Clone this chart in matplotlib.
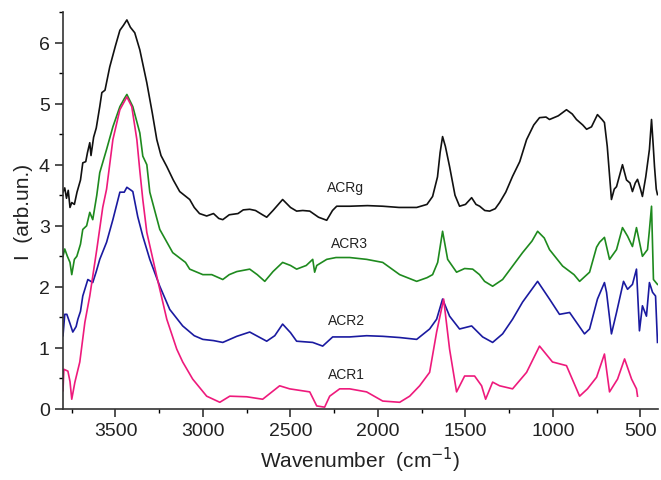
import matplotlib
matplotlib.use('Agg')
import matplotlib.pyplot as plt
from matplotlib.ticker import MultipleLocator

plt.rcParams['font.family'] = ['Liberation Sans', 'DejaVu Sans']

# ACRg (black)
wn_g = [3800, 3790, 3780, 3770, 3760, 3750, 3735, 3720, 3700, 3687, 3670, 3660, 3647, 3640,
        3625, 3610, 3590, 3578, 3560, 3533, 3500, 3475, 3455, 3435, 3415, 3390, 3361, 3321,
        3290, 3264, 3240, 3207, 3170, 3133, 3076, 3050, 3020, 2979, 2940, 2910, 2887, 2850,
        2800, 2770, 2733, 2700, 2660, 2636, 2600, 2545, 2500, 2465, 2430, 2390, 2340, 2293,
        2260, 2236, 2162, 2060, 1973, 1880, 1779, 1720, 1688, 1660, 1645, 1631, 1615, 1591,
        1560, 1534, 1500, 1465, 1440, 1419, 1390, 1362, 1330, 1305, 1270, 1231, 1190, 1151,
        1110, 1077, 1040, 1020, 970, 923, 890, 866, 830, 808, 780, 746, 720, 706, 690, 666,
        650, 637, 603, 580, 560, 546, 530, 517, 500, 489, 470, 449, 437, 427, 420, 410, 403]
acrg = [3.55, 3.62, 3.45, 3.58, 3.30, 3.38, 3.35, 3.55, 3.75, 4.03, 4.05, 4.2, 4.36, 4.15,
        4.45, 4.6, 4.95, 5.18, 5.22, 5.6, 5.95, 6.2, 6.28, 6.37, 6.25, 6.16, 5.88, 5.34,
        4.85, 4.41, 4.15, 3.97, 3.75, 3.56, 3.43, 3.3, 3.2, 3.16, 3.2, 3.12, 3.1, 3.18,
        3.2, 3.26, 3.27, 3.25, 3.18, 3.14, 3.25, 3.43, 3.3, 3.24, 3.25, 3.24, 3.14, 3.09,
        3.25, 3.32, 3.32, 3.33, 3.32, 3.3, 3.3, 3.35, 3.48, 3.8, 4.2, 4.46, 4.3, 3.97,
        3.5, 3.32, 3.35, 3.46, 3.35, 3.32, 3.25, 3.24, 3.28, 3.38, 3.55, 3.81, 4.05, 4.41,
        4.65, 4.77, 4.78, 4.74, 4.8, 4.9, 4.83, 4.74, 4.65, 4.58, 4.62, 4.82, 4.74, 4.69, 4.3, 3.43,
        3.6, 3.64, 4.0, 3.75, 3.7, 3.56, 3.7, 3.76, 3.6, 3.48, 3.8, 4.25, 4.74, 4.3, 3.97, 3.6, 3.51]

# ACR3 (green)
wn_3 = [3800, 3790, 3775, 3760, 3750, 3735, 3721, 3700, 3687, 3665, 3647, 3630, 3607, 3590,
        3551, 3515, 3475, 3450, 3435, 3401, 3361, 3344, 3321, 3304, 3247, 3173, 3100, 3076,
        3001, 2950, 2887, 2850, 2807, 2733, 2690, 2647, 2600, 2545, 2500, 2465, 2410, 2373,
        2362, 2350, 2293, 2240, 2162, 2065, 1973, 1876, 1779, 1720, 1688, 1659, 1631, 1602,
        1551, 1505, 1459, 1420, 1391, 1345, 1288, 1231, 1174, 1120, 1088, 1050, 1020, 945,
        880, 848, 791, 751, 734, 706, 677, 637, 603, 574, 546, 523, 489, 460, 450, 437, 426, 403]
acr3 = [2.5, 2.62, 2.5, 2.4, 2.2, 2.45, 2.5, 2.7, 2.94, 3.0, 3.22, 3.1, 3.5, 3.87,
        4.25, 4.62, 4.95, 5.08, 5.15, 4.95, 4.52, 4.14, 4.0, 3.55, 2.94, 2.56, 2.4, 2.29,
        2.2, 2.2, 2.12, 2.2, 2.25, 2.29, 2.2, 2.09, 2.25, 2.4, 2.35, 2.29, 2.35, 2.45,
        2.24, 2.35, 2.45, 2.48, 2.48, 2.45, 2.4, 2.2, 2.09, 2.15, 2.2, 2.4, 2.91, 2.45,
        2.24, 2.3, 2.29, 2.2, 2.09, 2.01, 2.12, 2.34, 2.56, 2.75, 2.91, 2.8, 2.61, 2.34,
        2.2, 2.09, 2.24, 2.65, 2.73, 2.81, 2.45, 2.61, 2.97, 2.83, 2.66, 2.97, 2.5, 2.61, 2.9, 3.32, 2.12, 2.04]

# ACR2 (blue)
wn_2 = [3800, 3790, 3778, 3760, 3744, 3725, 3715, 3700, 3687, 3658, 3630, 3610, 3590, 3551,
        3515, 3475, 3450, 3435, 3410, 3401, 3373, 3344, 3304, 3247, 3190, 3116, 3050, 3001,
        2940, 2887, 2807, 2733, 2636, 2590, 2545, 2500, 2465, 2373, 2316, 2259, 2162, 2065,
        1973, 1876, 1779, 1705, 1665, 1631, 1591, 1534, 1465, 1402, 1345, 1288, 1231, 1174,
        1088, 1020, 963, 905, 820, 791, 746, 706, 694, 666, 637, 597, 574, 546, 523, 506,
        489, 466, 449, 431, 414, 403]
acr2 = [1.2, 1.55, 1.55, 1.4, 1.26, 1.35, 1.47, 1.6, 1.85, 2.12, 2.07, 2.25, 2.45, 2.73,
        3.1, 3.55, 3.55, 3.63, 3.58, 3.56, 3.15, 2.83, 2.45, 2.01, 1.63, 1.36, 1.2, 1.14,
        1.12, 1.09, 1.19, 1.26, 1.11, 1.2, 1.39, 1.25, 1.11, 1.09, 1.03, 1.18, 1.18, 1.2,
        1.19, 1.17, 1.14, 1.31, 1.47, 1.8, 1.52, 1.31, 1.36, 1.18, 1.09, 1.23, 1.47, 1.75,
        2.09, 1.8, 1.55, 1.58, 1.23, 1.31, 1.8, 2.07, 1.91, 1.23, 1.58, 2.09, 1.96, 2.04, 2.29, 1.28,
        1.69, 1.52, 2.07, 1.91, 1.85, 1.09]

# ACR1 (pink)
wn_1 = [3800, 3795, 3772, 3760, 3750, 3732, 3704, 3675, 3647, 3607, 3573, 3551, 3515, 3475,
        3435, 3407, 3378, 3361, 3344, 3321, 3264, 3207, 3150, 3116, 3059, 2979, 2904, 2847,
        2750, 2659, 2562, 2505, 2390, 2350, 2305, 2276, 2219, 2162, 2065, 1973, 1876, 1819,
        1762, 1705, 1665, 1625, 1591, 1551, 1505, 1448, 1408, 1385, 1345, 1305, 1231, 1151,
        1077, 1003, 923, 848, 803, 751, 706, 677, 631, 591, 551, 523, 517]
acr1 = [0.3, 0.65, 0.62, 0.45, 0.16, 0.44, 0.77, 1.42, 1.85, 2.61, 3.3, 3.6, 4.41, 4.9,
        5.11, 4.95, 4.41, 3.9, 3.43, 2.89, 2.17, 1.47, 0.98, 0.77, 0.49, 0.21, 0.11, 0.21,
        0.2, 0.16, 0.38, 0.33, 0.28, 0.05, 0.03, 0.21, 0.33, 0.33, 0.28, 0.13, 0.11, 0.21,
        0.38, 0.6, 1.26, 1.8, 0.98, 0.28, 0.54, 0.54, 0.38, 0.16, 0.44, 0.38, 0.33, 0.6,
        1.03, 0.77, 0.71, 0.21, 0.33, 0.52, 0.9, 0.28, 0.49, 0.82, 0.49, 0.33, 0.21]

labels = ['ACRg', 'ACR3', 'ACR2', 'ACR1']
label_pos = [(2188, 3.64), (2162, 2.71), (2181, 1.45), (2181, 0.57)]

fig = plt.figure(figsize=(6.61, 4.81), dpi=100)
ax = fig.add_axes([63 / 661, 71 / 481, 595 / 661, 397 / 481])

ax.plot(wn_g, acrg, color='#111111', lw=1.2)
ax.plot(wn_3, acr3, color='#1e8a1e', lw=1.2)
ax.plot(wn_2, acr2, color='#1a1aa0', lw=1.2)
ax.plot(wn_1, acr1, color='#ee1a7c', lw=1.2)

for lab, (x, y) in zip(labels, label_pos):
    ax.text(x, y, lab, fontsize=10, ha='center', va='center', color='#222222')

ax.set_xlim(3800, 400)
ax.set_ylim(0, 6.5)
ax.xaxis.set_major_locator(MultipleLocator(500))
ax.xaxis.set_minor_locator(MultipleLocator(250))
ax.yaxis.set_major_locator(MultipleLocator(1))
ax.yaxis.set_minor_locator(MultipleLocator(0.5))
ax.tick_params(which='major', direction='out', length=6, width=1.1, labelsize=14, colors='#222222')
ax.tick_params(which='minor', direction='out', length=3, width=1.0)

for s in ['top', 'right']:
    ax.spines[s].set_visible(False)
for s in ['left', 'bottom']:
    ax.spines[s].set_linewidth(1.2)
    ax.spines[s].set_color('#333333')

ax.set_xlabel('Wavenumber  (cm$^{-1}$)', fontsize=15, color='#222222')
ax.set_ylabel('I  (arb.un.)', fontsize=15, color='#222222')

fig.savefig('out.png', dpi=100)
